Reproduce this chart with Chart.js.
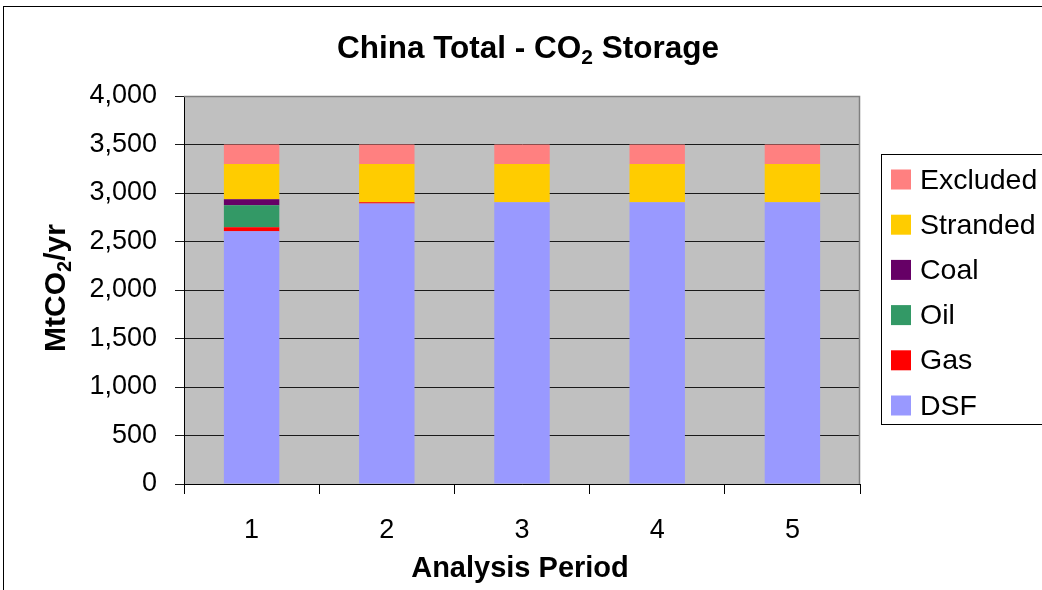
<!DOCTYPE html>
<html>
<head>
<meta charset="utf-8">
<title>China Total - CO2 Storage</title>
<script src="https://cdn.jsdelivr.net/npm/chart.js@4.4.1/dist/chart.umd.min.js"></script>
<style>
  html, body { margin: 0; padding: 0; background: #ffffff; }
  canvas { display: block; }
</style>
</head>
<body>
<canvas id="chart" width="1042" height="590"></canvas>
<script>
// Analysis periods on the x axis
const categories = ['1', '2', '3', '4', '5'];

// Storage capacity by category, MtCO2/yr (stacked bottom to top)
const dsf      = [2606, 2892, 2905, 2905, 2905];
const gas      = [41, 13, 0, 0, 0];
const oil      = [226, 0, 0, 0, 0];
const coal     = [62, 0, 0, 0, 0];
const stranded = [365, 395, 395, 395, 395];
const excluded = [200, 200, 200, 200, 200];

// Value axis
const yMin = 0;
const yMax = 4000;
const yStep = 500;

const FONT = '"Liberation Sans", Arial, Helvetica, sans-serif';

// Text pieces with a lowered "2" for CO2
const titleParts = [['China Total - CO', false], ['2', true], [' Storage', false]];
const yTitleParts = [['MtCO', false], ['2', true], ['/yr', false]];
const xTitle = 'Analysis Period';

function drawSubText(ctx, parts, cx, baseline, size) {
  const subSize = Math.round(size * 0.66);
  let total = 0;
  const widths = parts.map(([t, sub]) => {
    ctx.font = 'bold ' + (sub ? subSize : size) + 'px ' + FONT;
    const w = ctx.measureText(t).width;
    total += w;
    return w;
  });
  let x = cx - total / 2;
  ctx.textAlign = 'left';
  ctx.textBaseline = 'alphabetic';
  parts.forEach(([t, sub], i) => {
    ctx.font = 'bold ' + (sub ? subSize : size) + 'px ' + FONT;
    ctx.fillText(t, x, baseline + (sub ? size * 0.2 : 0));
    x += widths[i];
  });
}

// Frame, grey plot panel and its border
const panelPlugin = {
  id: 'panel',
  beforeDraw(chart) {
    const { ctx, chartArea: a } = chart;
    ctx.save();
    ctx.fillStyle = '#ffffff';
    ctx.fillRect(0, 0, chart.width, chart.height);
    ctx.strokeStyle = '#000000';
    ctx.lineWidth = 1;
    ctx.strokeRect(3.5, 6.5, 1200, 700);
    ctx.fillStyle = '#c0c0c0';
    ctx.fillRect(a.left, a.top, a.right - a.left, a.bottom - a.top);
    ctx.restore();
  },
  afterDatasetsDraw(chart) {
    const { ctx, chartArea: a } = chart;
    ctx.save();
    ctx.strokeStyle = '#808080';
    ctx.lineWidth = 1.5;
    ctx.beginPath();
    ctx.moveTo(a.left, a.top + 0.5);
    ctx.lineTo(a.right - 0.5, a.top + 0.5);
    ctx.lineTo(a.right - 0.5, a.bottom);
    ctx.stroke();
    ctx.restore();
  }
};

// Titles and legend
const labelsPlugin = {
  id: 'labels',
  afterDraw(chart) {
    const { ctx } = chart;
    ctx.save();
    ctx.fillStyle = '#000000';
    drawSubText(ctx, titleParts, 528, 58, 31.5);

    ctx.save();
    ctx.translate(65, 288);
    ctx.rotate(-Math.PI / 2);
    drawSubText(ctx, yTitleParts, 0, 0, 30);
    ctx.restore();

    ctx.font = 'bold 29px ' + FONT;
    ctx.textAlign = 'center';
    ctx.textBaseline = 'alphabetic';
    ctx.fillText(xTitle, 520, 577);

    // legend box, top series first
    ctx.strokeStyle = '#000000';
    ctx.lineWidth = 1;
    ctx.strokeRect(881.5, 154.5, 300, 270);
    const ds = chart.data.datasets.slice().reverse();
    ctx.font = '28.5px ' + FONT;
    ctx.textAlign = 'left';
    ds.forEach((d, i) => {
      const cy = 179.5 + i * 45.2;
      ctx.fillStyle = d.backgroundColor;
      ctx.fillRect(891, cy - 10, 20, 20);
      ctx.fillStyle = '#000000';
      ctx.fillText(d.label, 920, cy + 9);
    });
    ctx.restore();
  }
};

new Chart(document.getElementById('chart'), {
  type: 'bar',
  data: {
    labels: categories,
    datasets: [
      { label: 'DSF', data: dsf, backgroundColor: '#9999ff' },
      { label: 'Gas', data: gas, backgroundColor: '#ff0000' },
      { label: 'Oil', data: oil, backgroundColor: '#339966' },
      { label: 'Coal', data: coal, backgroundColor: '#660066' },
      { label: 'Stranded', data: stranded, backgroundColor: '#ffcc00' },
      { label: 'Excluded', data: excluded, backgroundColor: '#ff8080' }
    ]
  },
  options: {
    responsive: false,
    animation: false,
    devicePixelRatio: 1,
    layout: { padding: { left: 0, top: 96, right: 182, bottom: 0 } },
    datasets: { bar: { barPercentage: 0.41, categoryPercentage: 1, borderWidth: 0 } },
    plugins: {
      legend: { display: false },
      title: { display: false },
      tooltip: { enabled: false }
    },
    scales: {
      x: {
        stacked: true,
        offset: true,
        afterFit(scale) { scale.height = 106; },
        grid: {
          offset: true,
          drawOnChartArea: false,
          drawTicks: true,
          tickLength: 10,
          color: '#000000'
        },
        border: { color: '#000000', width: 1 },
        ticks: {
          color: '#000000',
          padding: 20,
          font: { family: FONT, size: 27 }
        }
      },
      y: {
        stacked: true,
        min: yMin,
        max: yMax,
        afterFit(scale) { scale.width = 184; },
        grid: {
          color: '#1a1a1a',
          lineWidth: 1,
          drawTicks: true,
          tickLength: 9
        },
        border: { color: '#000000', width: 1 },
        ticks: {
          stepSize: yStep,
          color: '#000000',
          padding: 18,
          font: { family: FONT, size: 27 },
          callback: (v) => Number(v).toLocaleString('en-US')
        }
      }
    }
  },
  plugins: [panelPlugin, labelsPlugin]
});
</script>
</body>
</html>
